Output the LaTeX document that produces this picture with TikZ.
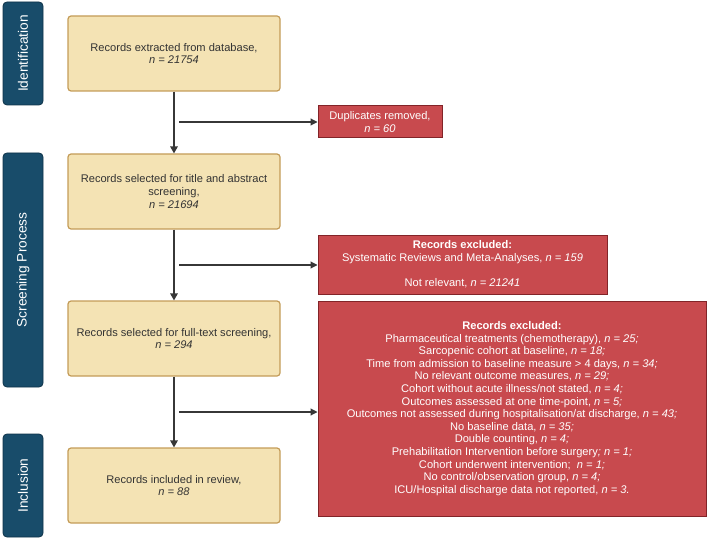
\documentclass[tikz,border=0pt]{standalone}
\usepackage{fontspec}
\setmainfont{Liberation Sans}
\usetikzlibrary{arrows.meta}
\definecolor{sidebl}{RGB}{24,76,106}
\definecolor{sidebd}{RGB}{14,50,72}
\definecolor{yfill}{RGB}{244,227,180}
\definecolor{ydraw}{RGB}{196,156,88}
\definecolor{rfill}{RGB}{200,74,78}
\definecolor{rdraw}{RGB}{130,36,40}
\definecolor{arr}{RGB}{55,55,55}
\tikzset{
  sidebar/.style={draw=sidebd, line width=0.8pt, fill=sidebl, rounded corners=4pt, rotate=90,
    text=white, font=\fontsize{13.7}{15}\selectfont, minimum height=40pt, inner sep=0pt},
  ybox/.style={draw=ydraw, line width=1.2pt, fill=yfill, rounded corners=3pt,
    minimum width=212pt, minimum height=75pt, align=center, text=black!80,
    font=\fontsize{11.1}{12.6}\selectfont, inner sep=0pt},
  rbox/.style={draw=rdraw, line width=1pt, fill=rfill, align=center, text=white,
    font=\fontsize{11.1}{12.6}\selectfont, inner sep=0pt},
  flow/.style={draw=arr, line width=1.5pt, -{Triangle[length=7pt,width=7.5pt]}},
  branch/.style={draw=arr, line width=1.1pt, -{Triangle[length=7pt,width=7pt]}}
}
\begin{document}
\begin{tikzpicture}[x=1pt,y=-1pt]
\useasboundingbox (0,0) rectangle (709,540);
% side bars
\node[sidebar, minimum width=103pt] (sid) at (23,53.5) {Identification};
\node[sidebar, minimum width=234pt] (ssp) at (23,270) {Screening Process};
\node[sidebar, minimum width=103pt] (sin) at (23,485.5) {Inclusion};
% yellow boxes
\node[ybox] (b1) at (174,53.5) {Records extracted from database,\\ \textit{n = 21754}};
\node[ybox] (b2) at (174,191.5) {Records selected for title and abstract\\ screening,\\ \textit{n = 21694}};
\node[ybox] (b3) at (174,338.5) {Records selected for full-text screening,\\ \textit{n = 294}};
\node[ybox] (b4) at (174,485.5) {Records included in review,\\ \textit{n = 88}};
% red boxes
\node[rbox, minimum width=124pt, minimum height=32pt] (r1) at (380,122) {Duplicates removed,\\ \textit{n = 60}};
\node[rbox, minimum width=289pt, minimum height=59pt] (r2) at (462.5,264.5)
  {\textbf{Records excluded:}\\ Systematic Reviews and Meta-Analyses, \textit{n = 159}\\[12.6pt] Not relevant, \textit{n = 21241}};
\node[rbox, minimum width=388pt, minimum height=215pt] (r3) at (512,408.5)
  {\textbf{Records excluded:}\\
   Pharmaceutical treatments (chemotherapy), \textit{n = 25;}\\
   Sarcopenic cohort at baseline, \textit{n = 18;}\\
   Time from admission to baseline measure > 4 days, \textit{n = 34;}\\
   No relevant outcome measures, \textit{n = 29;}\\
   Cohort without acute illness/not stated, \textit{n = 4;}\\
   Outcomes assessed at one time-point, \textit{n = 5;}\\
   Outcomes not assessed during hospitalisation/at discharge, \textit{n = 43;}\\
   No baseline data, \textit{n = 35;}\\
   Double counting, \textit{n = 4;}\\
   Prehabilitation Intervention before surgery\textit{; n = 1;}\\
   Cohort underwent intervention;\ \ \textit{n = 1;}\\
   No control/observation group, \textit{n = 4;}\\
   ICU/Hospital discharge data not reported, \textit{n = 3.}};
% branch points (free ends, just right of the main line)
\coordinate (c1) at ([xshift=5pt]b1.south |- r1.west);
\coordinate (c2) at ([xshift=5pt]b2.south |- 0,265);
\coordinate (c3) at ([xshift=5pt]b3.south |- 0,412);
% arrows
\draw[flow] (b1.south) -- (b2.north);
\draw[flow] (b2.south) -- (b3.north);
\draw[flow] (b3.south) -- (b4.north);
\draw[branch] (c1) -- (r1.west);
\draw[branch] (c2) -- (c2 -| r2.west);
\draw[branch] (c3) -- (c3 -| r3.west);
\end{tikzpicture}
\end{document}
